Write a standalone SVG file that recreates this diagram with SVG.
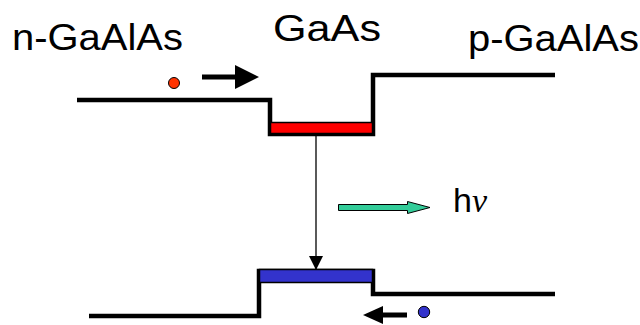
<svg xmlns="http://www.w3.org/2000/svg" width="640" height="325" viewBox="0 0 640 325">
<style>
.lbl{font-family:"Liberation Sans",Arial,sans-serif;font-size:36px;fill:#000}
.band{fill:none;stroke:#000;stroke-width:4.5;stroke-linejoin:miter}
.bar{stroke:#000;stroke-width:1.5}
</style>
<defs>
<marker id="ah" viewBox="0 0 14 14" refX="13" refY="7" markerWidth="14" markerHeight="14" markerUnits="userSpaceOnUse" orient="auto">
<path d="M0,0 L14,7 L0,14 Z" fill="#000"/>
</marker>
</defs>
<rect width="640" height="325" fill="#fff"/>
<g id="label-n"><text class="lbl" x="12" y="50" textLength="171" lengthAdjust="spacingAndGlyphs">n-GaAlAs</text></g>
<g id="label-gaas"><text class="lbl" x="273" y="41" textLength="108" lengthAdjust="spacingAndGlyphs">GaAs</text></g>
<g id="label-p"><text class="lbl" x="468" y="51" textLength="171" lengthAdjust="spacingAndGlyphs">p-GaAlAs</text></g>
<g id="conduction-band">
<path class="band" d="M77,100 H270 V134 H373 V75 H555"/>
<rect class="bar" x="270.5" y="122.5" width="102" height="11" fill="#ff0000"/>
</g>
<g id="valence-band">
<path class="band" d="M89,316 H259 V271 H373 V294 H555"/>
<rect class="bar" x="259.5" y="269.5" width="113" height="13" fill="#3333cc"/>
</g>
<g id="electron">
<circle cx="174" cy="83" r="5.5" fill="#ff3300" stroke="#000" stroke-width="1"/>
<path d="M202,77 H236" stroke="#000" stroke-width="5"/>
<path d="M235,65 L259,77 L235,89 Z" fill="#000"/>
</g>
<g id="hole">
<circle cx="424" cy="312" r="5.7" fill="#3333cc" stroke="#000" stroke-width="1"/>
<path d="M407,315 H382" stroke="#000" stroke-width="5"/>
<path d="M383,306 L363,315 L383,324 Z" fill="#000"/>
</g>
<g id="photon">
<path d="M338.5,204.5 H407.5 V201.5 L430,207.5 L407.5,213.5 V210.5 H338.5 Z" fill="#33cc99" stroke="#000" stroke-width="1"/>
<text x="453" y="212" font-family="'Liberation Sans',Arial,sans-serif" font-size="34">h<tspan font-family="'Liberation Serif','Times New Roman',serif" font-style="italic">ν</tspan></text>
</g>
<g id="connectors">
<line x1="316" y1="134" x2="316" y2="269" stroke="#000" stroke-width="1.3" marker-end="url(#ah)"/>
</g>
</svg>
